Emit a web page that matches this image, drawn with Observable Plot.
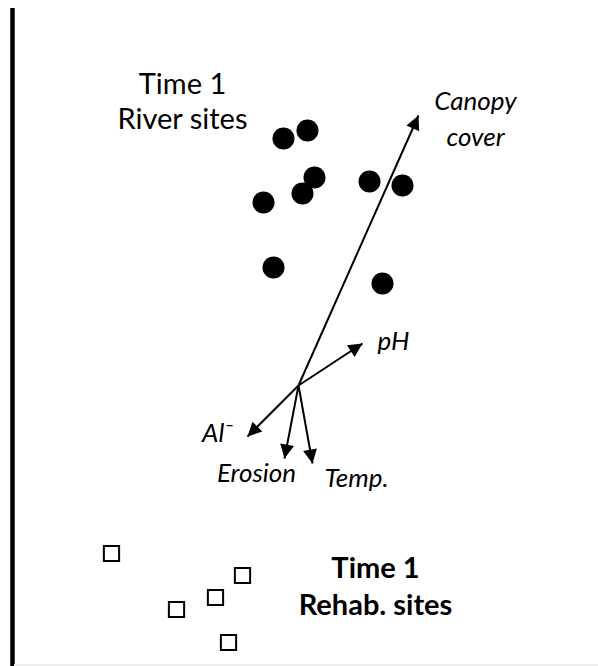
<!DOCTYPE html>
<html>
<head>
<meta charset="utf-8">
<script src="https://cdn.jsdelivr.net/npm/d3@7"></script>
<script src="https://cdn.jsdelivr.net/npm/@observablehq/plot@0.6"></script>
<style>
  html, body { margin: 0; padding: 0; background: #fff; }
  #chart svg { display: block; }
</style>
</head>
<body>
<div id="chart"></div>
<script>
// Ordination scores (arrow origin at 0,0)
const riverX = [-0.15, 0.09, 0.16, 0.04, -0.35, 0.71, 1.04, -0.25, 0.84];
const riverY = [2.47, 2.55, 2.08, 1.92, 1.83, 2.04, 2.00, 1.18, 1.02];
const rehabX = [-1.87, -0.56, -0.83, -1.22, -0.70];
const rehabY = [-1.68, -1.90, -2.12, -2.24, -2.57];

const vectorNames = ["Canopy cover", "pH", "Al⁻", "Erosion", "Temp."];
const vectorX = [1.20, 0.64, -0.51, -0.14, 0.14];
const vectorY = [2.70, 0.42, -0.51, -0.73, -0.78];
const vectorLabelX = [1.77, 0.95, -0.81, -0.42, 0.58];
const vectorLabelY = [2.69, 0.47, -0.45, -0.85, -0.90];

const groupLabels = ["Time 1\nRiver sites", "Time 1\nRehab. sites"];
const groupLabelX = [-1.16, 0.77];
const groupLabelY = [2.85, -1.99];

const river = riverX.map((x, i) => ({x, y: riverY[i]}));
const rehab = rehabX.map((x, i) => ({x, y: rehabY[i]}));
const vectors = vectorNames.map((name, i) => ({
  name, x: vectorX[i], y: vectorY[i],
  lx: vectorLabelX[i], ly: vectorLabelY[i],
  angle: Math.atan2(vectorX[i], vectorY[i]) * 180 / Math.PI
}));
const groups = groupLabels.map((t, i) => ({t, x: groupLabelX[i], y: groupLabelY[i]}));

const headLen = 14;
const head = {
  draw(context) {
    context.moveTo(0, -headLen / 2);
    context.lineTo(-7, headLen / 2);
    context.lineTo(7, headLen / 2);
    context.closePath();
  }
};

const font = "Lato, 'Open Sans', sans-serif";

const chart = Plot.plot({
  width: 598,
  height: 666,
  margin: 0,
  x: {domain: [-2.98, 3.00], axis: null},
  y: {domain: [-2.81, 3.85], axis: null},
  style: {fontFamily: font, background: "#fff"},
  marks: [
    Plot.ruleX([-2.86], {y1: -2.81, y2: 3.77, stroke: "#000", strokeWidth: 4.5}),
    Plot.ruleY([-2.795], {x1: -2.84, x2: 3.0, stroke: "#eee", strokeWidth: 2}),
    Plot.link(vectors, {x1: 0, y1: 0, x2: "x", y2: "y", stroke: "#000", strokeWidth: 2}),
    Plot.dot(vectors, {
      x: d => d.x - headLen / 2 / 100 * Math.sin(d.angle * Math.PI / 180),
      y: d => d.y - headLen / 2 / 100 * Math.cos(d.angle * Math.PI / 180),
      symbol: head, rotate: "angle", fill: "#000", stroke: null, r: 5
    }),
    Plot.dot(river, {x: "x", y: "y", r: 11, fill: "#000"}),
    Plot.dot(rehab, {x: "x", y: "y", symbol: "square", r: 8.6, fill: "#fff", stroke: "#000", strokeWidth: 2}),
    Plot.text(vectors, {x: "lx", y: "ly", text: "name", fontSize: 26, fontStyle: "italic", fill: "#000", lineHeight: 1.4, lineWidth: 4}),
    Plot.text(groups.slice(0, 1), {x: "x", y: "y", text: "t", fontSize: 29, fill: "#000", lineHeight: 1.2}),
    Plot.text(groups.slice(1), {x: "x", y: "y", text: "t", fontSize: 29, fontWeight: "bold", fill: "#000", lineHeight: 1.3})
  ]
});
document.getElementById("chart").append(chart);
</script>
</body>
</html>
